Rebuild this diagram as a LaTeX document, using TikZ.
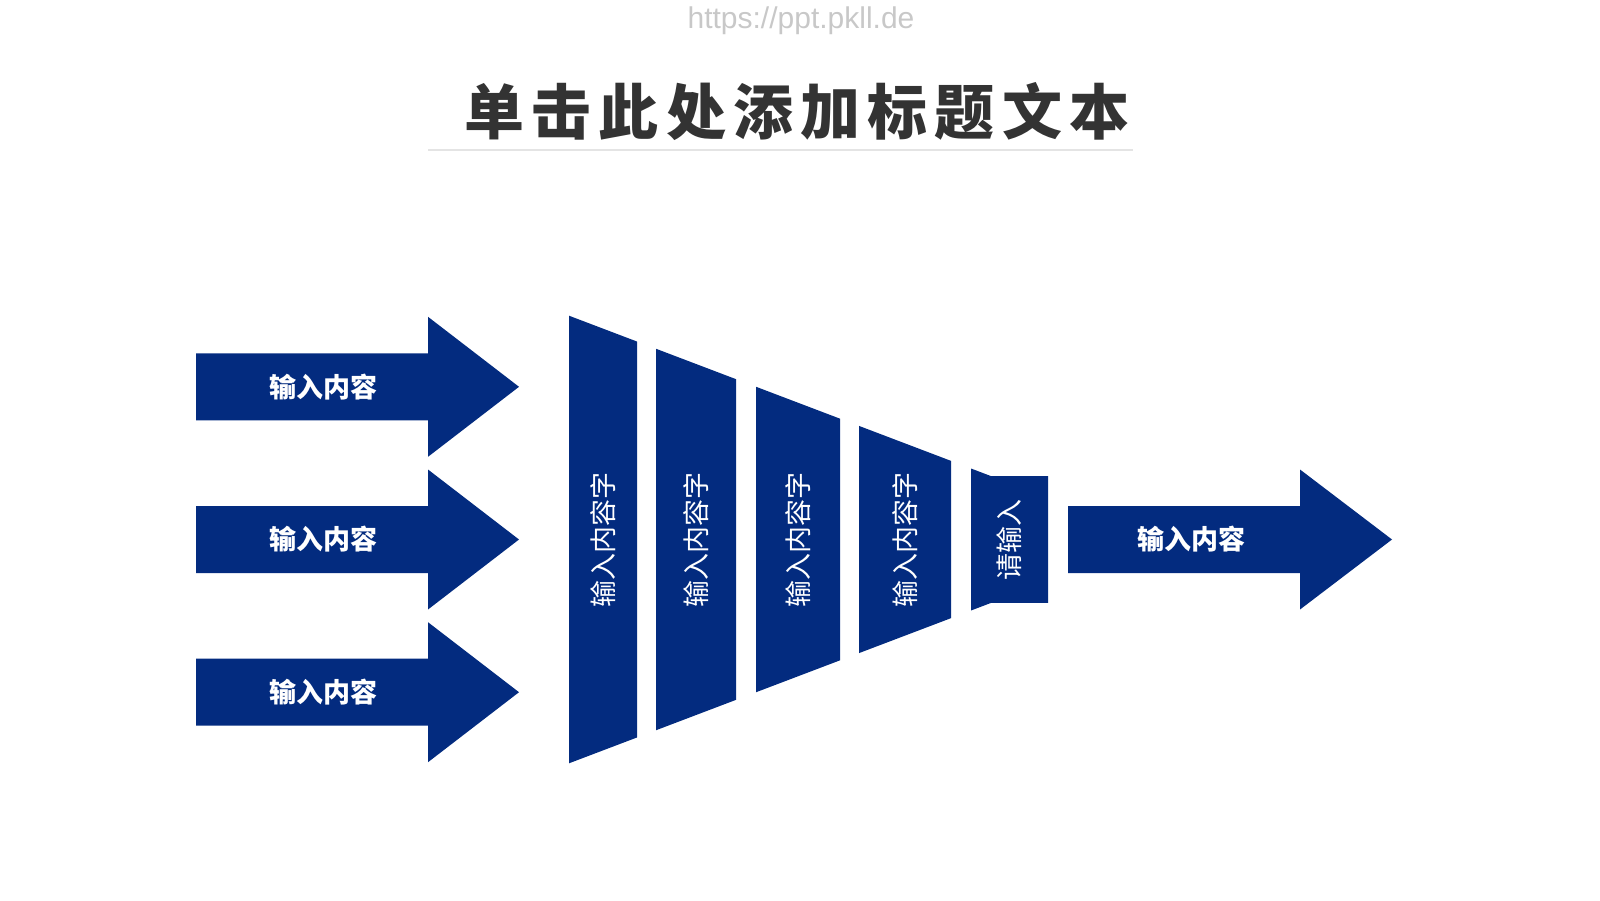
\documentclass[tikz,border=0pt]{standalone}
\usepackage{fontspec}
\setmainfont{Noto Sans CJK SC}
\newfontfamily\urlfont{Liberation Sans}
\usetikzlibrary{calc}
\definecolor{navy}{RGB}{3,43,127}
\definecolor{titlegray}{RGB}{51,51,51}
\definecolor{urlgray}{RGB}{200,200,200}
\definecolor{rulegray}{RGB}{228,228,228}

\begin{document}
\begin{tikzpicture}[
  x=1pt, y=-1pt,
  band/.style={fill=navy},
  arrowtext/.style={text=white, font=\fontsize{27}{30}\selectfont\bfseries, inner sep=0pt},
  striptext/.style={text=white, font=\fontsize{27}{30}\selectfont, rotate=90, inner sep=0pt},
  headtext/.style={text=titlegray, font=\fontsize{60}{70}\selectfont\bfseries\addfontfeature{LetterSpace=12}},
]
\useasboundingbox (0,0) rectangle (1600,900);

% header
\node[text=urlgray, font=\urlfont\fontsize{30}{34}\selectfont] (url) at (801,21) {https://ppt.pkll.de};
\node[headtext] (title) at (797,112) {单击此处添加标题文本};
\coordinate (ruleL) at (428,150);
\coordinate (ruleR) at (1133,150);
\draw[rulegray, line width=1.2pt] (ruleL) -- (ruleR);

% three input arrows
\foreach \y/\n in {386.8/a,539.5/b,692.2/c} {
  \fill[band] (196,\y-33.5) -- (428,\y-33.5) -- (428,\y-70) -- (519,\y)
    -- (428,\y+70) -- (428,\y+33.5) -- (196,\y+33.5) -- cycle;
  \node[arrowtext] (in\n) at (323,\y) {输入内容};
}

% funnel strips
\foreach \a/\b/\n in {569/637/1,656/736/2,756/840/3,859/951/4} {
  \pgfmathsetmacro\ha{223.8-0.38*(\a-569)}
  \pgfmathsetmacro\hb{223.8-0.38*(\b-569)}
  \fill[band] (\a,539.5-\ha) -- (\b,539.5-\hb) -- (\b,539.5+\hb) -- (\a,539.5+\ha) -- cycle;
  \node[striptext] (strip\n) at ({(\a+\b)/2},539.5) {输入内容字};
}
\fill[band] (971,468.5) -- (991,476.1) -- (1048,476.1) -- (1048,602.9)
  -- (991,602.9) -- (971,610.5) -- cycle;
\node[striptext] (strip5) at (1009.5,539.5) {请输入};

% output arrow
\fill[band] (1068,506) -- (1300,506) -- (1300,469.5) -- (1392,539.5)
  -- (1300,609.5) -- (1300,573) -- (1068,573) -- cycle;
\node[arrowtext] (out) at (1191,539.5) {输入内容};

\end{tikzpicture}
\end{document}
